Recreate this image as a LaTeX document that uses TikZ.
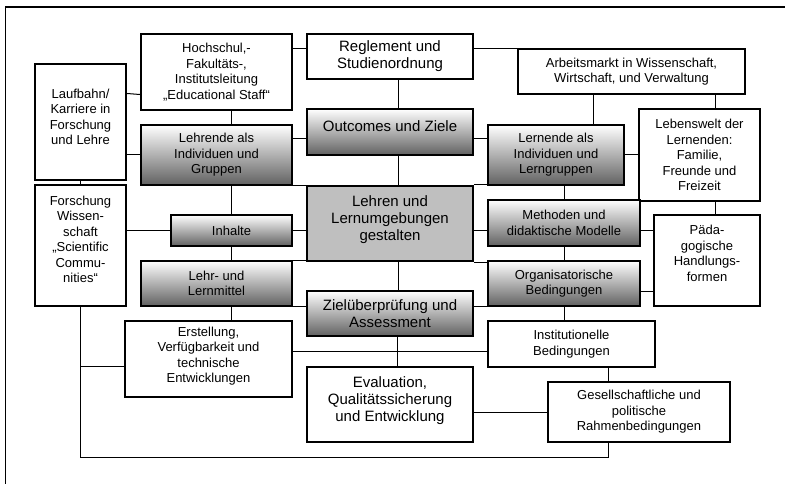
\documentclass[tikz,border=0pt]{standalone}
\usepackage{fontspec}
\setmainfont{Liberation Sans}
\usetikzlibrary{calc}
\begin{document}
\begin{tikzpicture}[x=1pt,y=-1pt,
  box/.style={draw=black, line width=1.1pt, fill=white, align=center, inner sep=1pt, font=\fontsize{13}{15.5}\selectfont},
  gbox/.style={box, top color=white, bottom color=black!62},
  big/.style={font=\fontsize{15}{17}\selectfont},
  t/.style={align=center, inner sep=0pt, font=\fontsize{13}{15.5}\selectfont},
  tb/.style={align=center, inner sep=0pt, font=\fontsize{15}{17}\selectfont},
  conn/.style={draw=black, line width=1pt},
  sz/.style 2 args={minimum width=#1pt, minimum height=#2pt},
]
\useasboundingbox (0,0) rectangle (785,484);
\clip (0,0) rectangle (785,484);
% outer frame
\draw[line width=1.6pt] (5.5,500) -- (5.5,7) -- (800,7);

% boxes
\node[box, sz={151}{76}] (hoch) at (216.5,72) {Hochschul,-\\Fakultäts-,\\Institutsleitung\\„Educational Staff“};
\node[box, big, sz={166}{45}] (regl) at (390,56.5) {Reglement und\\Studienordnung};
\node[box, sz={227}{45}] (arb) at (631.5,71.5) {Arbeitsmarkt in Wissenschaft,\\Wirtschaft, und Verwaltung};
\node[box, sz={91}{116}, label={[t,yshift=5pt]center:Laufbahn/\\Karriere in\\Forschung\\und Lehre}] (lauf) at (80.5,122) {};
\node[gbox, sz={151}{60}] (lehrende) at (216.5,155) {Lehrende als\\Individuen und\\Gruppen};
\node[gbox, sz={166}{46}, label={[tb,yshift=6pt]center:Outcomes und Ziele}] (out) at (390,132) {};
\node[gbox, sz={136}{60}] (lern) at (556,155) {Lernende als\\Individuen und\\Lerngruppen};
\node[box, sz={121}{92}] (leben) at (699.5,155) {Lebenswelt der\\Lernenden:\\Familie,\\Freunde und\\Freizeit};
\node[box, sz={91}{121}, label={[t,yshift=6pt]center:Forschung\\Wissen-\\schaft\\„Scientific\\Commu-\\nities“}] (forsch) at (80.5,245.5) {};
\node[gbox, sz={121}{31}] (inh) at (231.5,230.5) {Inhalte};
\node[box, fill=black!25, line width=2.2pt, sz={166}{75}, label={[tb,yshift=4pt]center:Lehren und\\Lernumgebungen\\gestalten}] (center) at (390,223.5) {};
\node[gbox, sz={152}{46}] (meth) at (564,223) {Methoden und\\didaktische Modelle};
\node[box, sz={106}{91}, label={[t,yshift=7pt]center:Päda-\\gogische\\Handlungs-\\formen}] (paed) at (707,260.5) {};
\node[gbox, sz={151}{45}] (lehrm) at (216.5,283.5) {Lehr- und\\Lernmittel};
\node[gbox, sz={152}{45}] (org) at (564,283.5) {Organisatorische\\Bedingungen};
\node[gbox, big, sz={166}{45}] (ziel) at (390,313.5) {Zielüberprüfung und\\Assessment};
\node[box, sz={167}{76}, label={[t,yshift=3pt]center:Erstellung,\\Verfügbarkeit und\\technische\\Entwicklungen}] (erst) at (208.5,359) {};
\node[box, sz={167}{46}] (inst) at (571.5,344) {Institutionelle\\Bedingungen};
\node[box, sz={166}{75}, label={[tb,yshift=4pt]center:Evaluation,\\Qualitätssicherung\\und Entwicklung}] (eval) at (390,404.5) {};
\node[box, sz={182}{60}] (ges) at (639,412) {Gesellschaftliche und\\politische\\Rahmenbedingungen};

% connectors
\draw[conn] ($(hoch.north east)+(0,15)$) -- ($(regl.north west)+(0,15)$);
\draw[conn] ($(regl.north east)+(0,15)$) -- (arb.north west);
\draw[conn] ($(lauf.north east)+(0,30)$) -- ($(hoch.south west)+(0,-16)$);
\draw[conn] (lauf.east |- lehrende.west) -- (lehrende.west);
\draw[conn] (lauf.south) -- (forsch.north);
\draw[conn] (inh.north |- hoch.south) -- (inh.north |- lehrende.north);
\draw[conn] ($(lehrende.north east)+(0,14)$) -- ($(out.north west)+(0,30)$);
\draw[conn] (lehrende.south east) -- (lehrende.south east -| center.west);
\draw[conn] (inh.north |- lehrende.south) -- (inh.north);
\draw[conn] (forsch.east |- inh.west) -- (inh.west);
\draw[conn] (inh.east) -- (inh.east -| center.west);
\draw[conn] (inh.south) -- (inh.south |- lehrm.north);
\draw[conn] (lehrm.north east) -- (lehrm.north east -| center.west);
\draw[conn] (lehrm.south east) -- (lehrm.south east -| ziel.west);
\draw[conn] (inh.south |- lehrm.south) -- (inh.south |- erst.north);
\draw[conn] ($(erst.north east)+(0,31)$) -- ($(inst.north west)+(0,31)$);
\draw[conn] ($(regl.south)+(8,0)$) -- ($(out.north)+(8,0)$);
\draw[conn] ($(out.south)+(8,0)$) -- ($(center.north)+(8,0)$);
\draw[conn] ($(center.south)+(8,0)$) -- ($(ziel.north)+(8,0)$);
\draw[conn] ($(ziel.south)+(7,0)$) -- ($(eval.north)+(7,0)$);
\draw[conn] ($(out.north east)+(0,30)$) -- ($(lern.north west)+(0,14)$);
\draw[conn] (center.north east) -- (center.north east -| lern.west);
\draw[conn] (center.east |- inh.east) -- (meth.west |- inh.east);
\draw[conn] (center.south east) -- (center.south east -| org.west);
\draw[conn] (ziel.east |- org.south) -- (org.south west);
\draw[conn] (meth.north |- lern.south) -- (meth.north);
\draw[conn] (meth.south) -- (org.north);
\draw[conn] (org.south) -- (org.south |- inst.north);
\draw[conn] ($(arb.south west)+(76,0)$) -- ($(lern.north west)+(106,0)$);
\draw[conn] ($(arb.south east)+(-30,0)$) -- ($(leben.north east)+(-45,0)$);
\draw[conn] (lern.east) -- (lern.east -| leben.west);
\draw[conn] ($(leben.south east)+(-45,0)$) -- ($(paed.north east)+(-45,0)$);
\draw[conn] (meth.east |- inh.east) -- (paed.west |- inh.east);
\draw[conn] ($(org.south east)+(0,-15)$) -- ($(paed.south west)+(0,-15)$);
\draw[conn] ($(inst.south west)+(121,0)$) -- ($(ges.north west)+(61,0)$);
\draw[conn] (eval.east |- ges.west) -- (ges.west);
\draw[conn] ($(ges.south west)+(61,0)$) -- ++(0,15) -| (forsch.south);
\draw[conn] ($(erst.north west)+(0,46)$) -- ++(-44.5,0);
\end{tikzpicture}
\end{document}
